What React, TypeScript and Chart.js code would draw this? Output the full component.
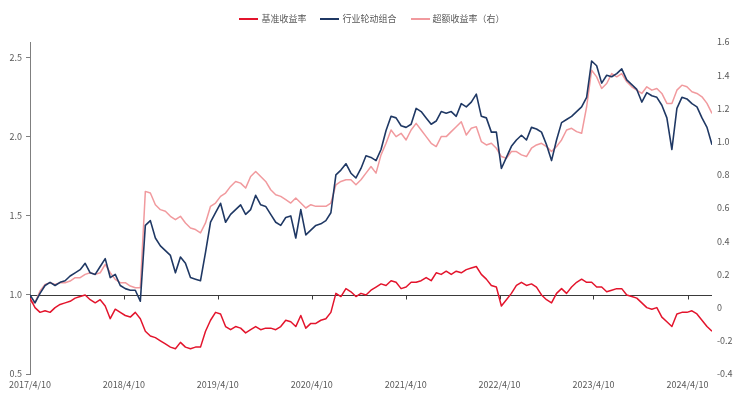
import React, { useEffect, useRef } from 'react';
import { Chart, registerables } from 'chart.js';

Chart.register(...registerables);

// Sampling grid: one point about every 19.5 days starting 2017/4/10
const stepDays = 19.5;
const tickDays = [0, 365, 730, 1096, 1461, 1826, 2191, 2557];
const tickLabels = ['2017/4/10', '2018/4/10', '2019/4/10', '2020/4/10', '2021/4/10', '2022/4/10', '2023/4/10', '2024/4/10'];
const leftTicks = [0.5, 1, 1.5, 2, 2.5];

const seriesNames = ['基准收益率', '行业轮动组合', '超额收益率（右）'];
const seriesColors = ['#E3142C', '#1F3864', '#F19A9E'];

// 基准收益率 (left axis)
const benchmark = [
  0.98, 0.92, 0.89, 0.90, 0.89, 0.92, 0.94, 0.95, 0.96, 0.98,
  0.99, 1.00, 0.97, 0.95, 0.97, 0.93, 0.85, 0.91, 0.89, 0.87,
  0.86, 0.89, 0.85, 0.77, 0.74, 0.73, 0.71, 0.69, 0.67, 0.66,
  0.70, 0.67, 0.66, 0.67, 0.67, 0.77, 0.84, 0.89, 0.88, 0.80,
  0.78, 0.80, 0.79, 0.76, 0.78, 0.80, 0.78, 0.79, 0.79, 0.78,
  0.80, 0.84, 0.83, 0.80, 0.87, 0.79, 0.82, 0.82, 0.84, 0.85,
  0.89, 1.01, 0.99, 1.04, 1.02, 0.99, 1.01, 1.00, 1.03, 1.05,
  1.07, 1.06, 1.09, 1.08, 1.04, 1.05, 1.08, 1.08, 1.09, 1.11,
  1.09, 1.14, 1.13, 1.15, 1.13, 1.15, 1.14, 1.16, 1.17, 1.18,
  1.13, 1.10, 1.06, 1.05, 0.93, 0.97, 1.01, 1.06, 1.08, 1.06,
  1.07, 1.05, 1.00, 0.97, 0.95, 1.01, 1.04, 1.01, 1.05, 1.08,
  1.10, 1.08, 1.08, 1.05, 1.05, 1.02, 1.03, 1.04, 1.04, 1.00,
  0.99, 0.98, 0.95, 0.92, 0.91, 0.92, 0.86, 0.83, 0.80, 0.88,
  0.89, 0.89, 0.90, 0.88, 0.84, 0.80, 0.77,
];

// 行业轮动组合 (left axis)
const portfolio = [
  1.00, 0.95, 1.01, 1.06, 1.08, 1.06, 1.08, 1.09, 1.12, 1.14,
  1.16, 1.20, 1.14, 1.13, 1.18, 1.23, 1.11, 1.13, 1.06, 1.04,
  1.03, 1.03, 0.96, 1.44, 1.47, 1.36, 1.31, 1.28, 1.25, 1.14,
  1.24, 1.20, 1.11, 1.10, 1.09, 1.27, 1.46, 1.52, 1.58, 1.46,
  1.51, 1.54, 1.57, 1.51, 1.54, 1.63, 1.57, 1.56, 1.51, 1.46,
  1.44, 1.49, 1.50, 1.36, 1.54, 1.38, 1.41, 1.44, 1.45, 1.47,
  1.52, 1.76, 1.79, 1.83, 1.77, 1.74, 1.80, 1.88, 1.87, 1.85,
  1.92, 2.04, 2.13, 2.12, 2.07, 2.06, 2.08, 2.18, 2.16, 2.12,
  2.08, 2.10, 2.16, 2.15, 2.16, 2.13, 2.21, 2.19, 2.22, 2.27,
  2.13, 2.12, 2.03, 2.03, 1.80, 1.87, 1.94, 1.98, 2.01, 1.98,
  2.06, 2.05, 2.03, 1.95, 1.85, 1.98, 2.09, 2.11, 2.13, 2.16,
  2.19, 2.25, 2.48, 2.45, 2.34, 2.39, 2.38, 2.40, 2.43, 2.36,
  2.33, 2.30, 2.22, 2.28, 2.26, 2.25, 2.20, 2.12, 1.92, 2.18,
  2.25, 2.24, 2.21, 2.19, 2.12, 2.06, 1.95,
];

// 超额收益率（右） (right axis)
const excess = [
  0.03, 0.03, 0.10, 0.14, 0.15, 0.14, 0.15, 0.15, 0.16, 0.18,
  0.18, 0.20, 0.21, 0.20, 0.21, 0.26, 0.21, 0.17, 0.15, 0.15,
  0.13, 0.12, 0.12, 0.70, 0.69, 0.62, 0.59, 0.58, 0.55, 0.53,
  0.55, 0.51, 0.48, 0.47, 0.45, 0.51, 0.61, 0.63, 0.67, 0.69,
  0.73, 0.76, 0.75, 0.72, 0.79, 0.82, 0.79, 0.76, 0.71, 0.68,
  0.67, 0.65, 0.63, 0.66, 0.63, 0.60, 0.62, 0.61, 0.61, 0.61,
  0.63, 0.74, 0.76, 0.77, 0.77, 0.74, 0.77, 0.81, 0.85, 0.81,
  0.92, 0.99, 1.07, 1.03, 1.05, 1.01, 1.07, 1.11, 1.07, 1.03,
  0.99, 0.97, 1.03, 1.03, 1.06, 1.09, 1.12, 1.04, 1.08, 1.09,
  1.00, 0.98, 0.99, 0.96, 0.91, 0.90, 0.94, 0.94, 0.92, 0.91,
  0.96, 0.98, 0.99, 0.97, 0.94, 0.97, 1.01, 1.07, 1.08, 1.06,
  1.05, 1.21, 1.43, 1.39, 1.32, 1.35, 1.41, 1.39, 1.41, 1.36,
  1.33, 1.31, 1.29, 1.33, 1.31, 1.32, 1.29, 1.23, 1.23, 1.31,
  1.34, 1.33, 1.30, 1.29, 1.27, 1.23, 1.17,
];

const FONT = '"Noto Sans CJK SC", "Noto Sans", sans-serif';
const TEXT = '#595959';

const toPoints = (vals: number[]) => vals.map((v, i) => ({ x: i * stepDays, y: v }));

const baselinePlugin = {
  id: 'baseline',
  beforeDatasetsDraw(chart: any) {
    const { ctx, chartArea, scales } = chart;
    const y = Math.round(scales.y.getPixelForValue(1)) + 0.5;
    ctx.save();
    ctx.strokeStyle = '#3a3a3a';
    ctx.lineWidth = 1;
    ctx.beginPath();
    ctx.moveTo(chartArea.left, y);
    ctx.lineTo(chartArea.right, y);
    tickDays.forEach((d) => {
      const x = Math.round(scales.x.getPixelForValue(d)) + 0.5;
      ctx.moveTo(x, y);
      ctx.lineTo(x, y + 4);
    });
    ctx.stroke();
    ctx.restore();
  },
};

export default function App() {
  const canvasRef = useRef<HTMLCanvasElement | null>(null);

  useEffect(() => {
    if (!canvasRef.current) return;
    Chart.defaults.font.family = FONT;
    const lastX = (benchmark.length - 1) * stepDays;
    const chart = new Chart(canvasRef.current, {
      type: 'line',
      data: {
        datasets: [
          {
            label: seriesNames[0],
            data: toPoints(benchmark),
            borderColor: seriesColors[0],
            backgroundColor: seriesColors[0],
            borderWidth: 1.5,
            pointRadius: 0,
            yAxisID: 'y',
          },
          {
            label: seriesNames[1],
            data: toPoints(portfolio),
            borderColor: seriesColors[1],
            backgroundColor: seriesColors[1],
            borderWidth: 1.6,
            pointRadius: 0,
            yAxisID: 'y',
          },
          {
            label: seriesNames[2],
            data: toPoints(excess),
            borderColor: seriesColors[2],
            backgroundColor: seriesColors[2],
            borderWidth: 1.5,
            pointRadius: 0,
            yAxisID: 'y1',
          },
        ],
      },
      options: {
        responsive: false,
        animation: false,
        devicePixelRatio: 1,
        layout: { padding: { top: 42, left: 0, right: 0, bottom: 0 } },
        plugins: {
          legend: { display: false },
          tooltip: { enabled: false },
        },
        elements: { line: { tension: 0, borderJoinStyle: 'round' } },
        scales: {
          x: {
            type: 'linear',
            min: 0,
            max: lastX,
            grid: { display: false, drawTicks: false },
            border: { display: false },
            afterBuildTicks: (scale: any) => {
              scale.ticks = tickDays.map((v) => ({ value: v }));
            },
            afterFit: (scale: any) => {
              scale.height = 25;
            },
            ticks: {
              autoSkip: false,
              maxRotation: 0,
              padding: 5,
              color: TEXT,
              font: { size: 9, family: FONT },
              callback: (_v: any, i: number) => tickLabels[i],
            },
          },
          y: {
            type: 'linear',
            position: 'left',
            min: 0.5,
            max: 2.6,
            afterBuildTicks: (scale: any) => {
              scale.ticks = leftTicks.map((v) => ({ value: v }));
            },
            afterFit: (scale: any) => {
              scale.width = 30;
            },
            grid: { display: true, drawOnChartArea: false, drawTicks: true, tickLength: 4, color: '#7f7f7f' },
            border: { display: true, color: '#7f7f7f', width: 1 },
            ticks: { color: TEXT, padding: 4, font: { size: 9, family: FONT } },
          },
          y1: {
            type: 'linear',
            position: 'right',
            min: -0.4,
            max: 1.6,
            afterFit: (scale: any) => {
              scale.width = 32;
            },
            grid: { display: false, drawTicks: false },
            border: { display: false },
            ticks: { stepSize: 0.2, color: TEXT, padding: 5, font: { size: 9, family: FONT } },
          },
        },
      },
      plugins: [baselinePlugin],
    });
    return () => chart.destroy();
  }, []);

  return (
    <div style={{ position: 'absolute', left: 0, top: 0, width: 744, height: 399, background: '#fff' }}>
      <canvas ref={canvasRef} width={744} height={399} style={{ display: 'block', width: 744, height: 399 }} />
      <div
        style={{
          position: 'absolute',
          top: 12,
          left: 0,
          width: 744,
          height: 14,
          display: 'flex',
          justifyContent: 'center',
          alignItems: 'center',
          fontFamily: FONT,
          fontSize: 9,
          lineHeight: '14px',
          color: TEXT,
        }}
      >
        {seriesNames.map((name, i) => (
          <span key={name} style={{ display: 'flex', alignItems: 'center', marginRight: i < seriesNames.length - 1 ? 14 : 0 }}>
            <span style={{ display: 'inline-block', width: 19, height: 2, background: seriesColors[i], marginRight: 3 }} />
            <span>{name}</span>
          </span>
        ))}
      </div>
    </div>
  );
}
